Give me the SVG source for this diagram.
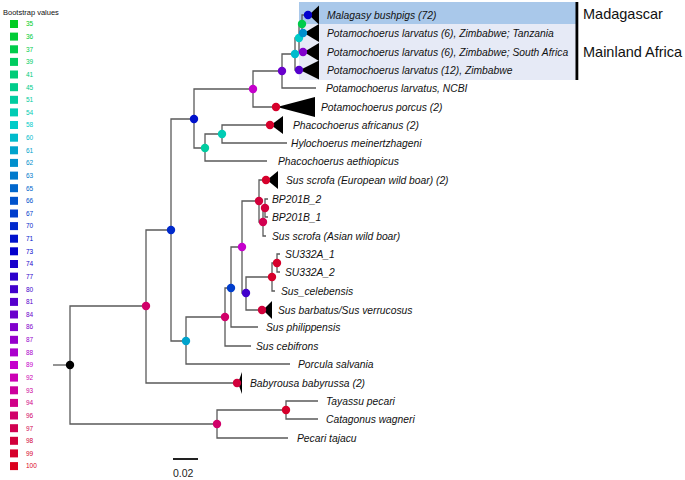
<svg xmlns="http://www.w3.org/2000/svg" width="685" height="480" viewBox="0 0 685 480">
<style>
text{font-family:"Liberation Sans",Arial,sans-serif}
.lab{font-size:10.3px;font-style:italic;fill:#111}
.lg{font-size:6.5px}
.title{font-size:7.5px;fill:#111}
.region{font-size:14.5px;fill:#111}
.br{fill:none;stroke:#5a5a5a;stroke-width:1.3}
.tri{fill:#000}
.c35{fill:hsl(130,100%,40%)}.c36{fill:hsl(136,100%,40%)}.c37{fill:hsl(142,100%,40%)}.c39{fill:hsl(148,100%,40%)}
.c41{fill:hsl(155,100%,40%)}.c45{fill:hsl(161,100%,40%)}.c51{fill:hsl(167,100%,40%)}.c54{fill:hsl(173,100%,40%)}
.c58{fill:hsl(179,100%,40%)}.c60{fill:hsl(185,100%,40%)}.c61{fill:hsl(192,100%,40%)}.c62{fill:hsl(198,100%,40%)}
.c63{fill:hsl(204,100%,40%)}.c65{fill:hsl(210,100%,40%)}.c66{fill:hsl(216,100%,40%)}.c67{fill:hsl(222,100%,40%)}
.c70{fill:hsl(228,100%,40%)}.c71{fill:hsl(235,100%,40%)}.c73{fill:hsl(241,100%,40%)}.c74{fill:hsl(247,100%,40%)}
.c77{fill:hsl(253,100%,40%)}.c80{fill:hsl(259,100%,40%)}.c81{fill:hsl(265,100%,40%)}.c84{fill:hsl(271,100%,40%)}
.c86{fill:hsl(278,100%,40%)}.c87{fill:hsl(284,100%,40%)}.c88{fill:hsl(290,100%,40%)}.c89{fill:hsl(298,100%,40%)}
.c92{fill:hsl(307,100%,40%)}.c93{fill:hsl(314,100%,40%)}.c94{fill:hsl(321,100%,41%)}.c96{fill:hsl(330,100%,41%)}
.c97{fill:hsl(337,100%,41%)}.c98{fill:hsl(343,100%,41%)}.c99{fill:hsl(348,100%,42%)}.c100{fill:hsl(352,100%,43%)}
</style>
<rect width="685" height="480" fill="#fff"/>

<g id="legend">
<text class="title" x="3" y="15">Bootstrap values</text>
<rect class="c35" x="10" y="20" width="8" height="8"/><text class="lg c35" x="26" y="26.3">35</text>
<rect class="c36" x="10" y="32.6" width="8" height="8"/><text class="lg c36" x="26" y="38.9">36</text>
<rect class="c37" x="10" y="45.3" width="8" height="8"/><text class="lg c37" x="26" y="51.6">37</text>
<rect class="c39" x="10" y="57.9" width="8" height="8"/><text class="lg c39" x="26" y="64.2">39</text>
<rect class="c41" x="10" y="70.5" width="8" height="8"/><text class="lg c41" x="26" y="76.8">41</text>
<rect class="c45" x="10" y="83.2" width="8" height="8"/><text class="lg c45" x="26" y="89.5">45</text>
<rect class="c51" x="10" y="95.8" width="8" height="8"/><text class="lg c51" x="26" y="102.1">51</text>
<rect class="c54" x="10" y="108.4" width="8" height="8"/><text class="lg c54" x="26" y="114.7">54</text>
<rect class="c58" x="10" y="121" width="8" height="8"/><text class="lg c58" x="26" y="127.3">58</text>
<rect class="c60" x="10" y="133.7" width="8" height="8"/><text class="lg c60" x="26" y="140">60</text>
<rect class="c61" x="10" y="146.3" width="8" height="8"/><text class="lg c61" x="26" y="152.6">61</text>
<rect class="c62" x="10" y="158.9" width="8" height="8"/><text class="lg c62" x="26" y="165.2">62</text>
<rect class="c63" x="10" y="171.6" width="8" height="8"/><text class="lg c63" x="26" y="177.9">63</text>
<rect class="c65" x="10" y="184.2" width="8" height="8"/><text class="lg c65" x="26" y="190.5">65</text>
<rect class="c66" x="10" y="196.8" width="8" height="8"/><text class="lg c66" x="26" y="203.1">66</text>
<rect class="c67" x="10" y="209.5" width="8" height="8"/><text class="lg c67" x="26" y="215.8">67</text>
<rect class="c70" x="10" y="222.1" width="8" height="8"/><text class="lg c70" x="26" y="228.4">70</text>
<rect class="c71" x="10" y="234.7" width="8" height="8"/><text class="lg c71" x="26" y="241">71</text>
<rect class="c73" x="10" y="247.3" width="8" height="8"/><text class="lg c73" x="26" y="253.6">73</text>
<rect class="c74" x="10" y="260" width="8" height="8"/><text class="lg c74" x="26" y="266.3">74</text>
<rect class="c77" x="10" y="272.6" width="8" height="8"/><text class="lg c77" x="26" y="278.9">77</text>
<rect class="c80" x="10" y="285.2" width="8" height="8"/><text class="lg c80" x="26" y="291.5">80</text>
<rect class="c81" x="10" y="297.9" width="8" height="8"/><text class="lg c81" x="26" y="304.2">81</text>
<rect class="c84" x="10" y="310.5" width="8" height="8"/><text class="lg c84" x="26" y="316.8">84</text>
<rect class="c86" x="10" y="323.1" width="8" height="8"/><text class="lg c86" x="26" y="329.4">86</text>
<rect class="c87" x="10" y="335.8" width="8" height="8"/><text class="lg c87" x="26" y="342.1">87</text>
<rect class="c88" x="10" y="348.4" width="8" height="8"/><text class="lg c88" x="26" y="354.7">88</text>
<rect class="c89" x="10" y="361" width="8" height="8"/><text class="lg c89" x="26" y="367.3">89</text>
<rect class="c92" x="10" y="373.6" width="8" height="8"/><text class="lg c92" x="26" y="379.9">92</text>
<rect class="c93" x="10" y="386.3" width="8" height="8"/><text class="lg c93" x="26" y="392.6">93</text>
<rect class="c94" x="10" y="398.9" width="8" height="8"/><text class="lg c94" x="26" y="405.2">94</text>
<rect class="c96" x="10" y="411.5" width="8" height="8"/><text class="lg c96" x="26" y="417.8">96</text>
<rect class="c97" x="10" y="424.2" width="8" height="8"/><text class="lg c97" x="26" y="430.5">97</text>
<rect class="c98" x="10" y="436.8" width="8" height="8"/><text class="lg c98" x="26" y="443.1">98</text>
<rect class="c99" x="10" y="449.4" width="8" height="8"/><text class="lg c99" x="26" y="455.7">99</text>
<rect class="c100" x="10" y="462.1" width="8" height="8"/><text class="lg c100" x="26" y="468.4">100</text>
</g>

<g id="regions">
<rect x="299" y="2" width="277" height="22" fill="#a9c8ea"/>
<rect x="299" y="24" width="277" height="56" fill="#e6eaf6"/>
<rect x="575.5" y="2" width="2.8" height="78" fill="#000"/>
<text class="region" x="583" y="19">Madagascar</text>
<text class="region" x="583" y="57">Mainland Africa</text>
</g>

<g id="connectors">
<path class="br" d="M53 365H70"/>
<path class="br" d="M70 365V306H146"/>
<path class="br" d="M70 365V424H217"/>
<path class="br" d="M217 424V410H286"/>
<path class="br" d="M286 410V401H318"/>
<path class="br" d="M286 410V419H318"/>
<path class="br" d="M217 424V438H288"/>
<path class="br" d="M146 306V383H237"/>
<path class="br" d="M146 306V230H171"/>
<path class="br" d="M171 230V119H194"/>
<path class="br" d="M171 230V341H186"/>
<path class="br" d="M186 341V364H290"/>
<path class="br" d="M186 341V317H225"/>
<path class="br" d="M225 317V346H251"/>
<path class="br" d="M225 317V288H231"/>
<path class="br" d="M231 288V327H258"/>
<path class="br" d="M231 288V247H242"/>
<path class="br" d="M242 247V201H259"/>
<path class="br" d="M242 247V293H246"/>
<path class="br" d="M259 201V180H266"/>
<path class="br" d="M259 201V222H263"/>
<path class="br" d="M263 222V208H265"/>
<path class="br" d="M263 222V236H266"/>
<path class="br" d="M265 208V199H268"/>
<path class="br" d="M265 208V217H268"/>
<path class="br" d="M246 293V277H272"/>
<path class="br" d="M246 293V310H262"/>
<path class="br" d="M272 277V263H277"/>
<path class="br" d="M272 277V291H275"/>
<path class="br" d="M277 263V254H280"/>
<path class="br" d="M277 263V272H280"/>
<path class="br" d="M194 119V89H253"/>
<path class="br" d="M194 119V148H205"/>
<path class="br" d="M253 89V71H282"/>
<path class="br" d="M253 89V107H276"/>
<path class="br" d="M282 71V54H295"/>
<path class="br" d="M282 71V88H316"/>
<path class="br" d="M295 54V38H299"/>
<path class="br" d="M295 54V70H299"/>
<path class="br" d="M299 38V24H302"/>
<path class="br" d="M299 38V52H303"/>
<path class="br" d="M302 24V15H308"/>
<path class="br" d="M302 24V33H303"/>
<path class="br" d="M205 148V134H222"/>
<path class="br" d="M205 148V161H267"/>
<path class="br" d="M222 134V125H270"/>
<path class="br" d="M222 134V143H287"/>
</g>

<g id="internal-nodes">
<g id="n-root"><circle cx="70" cy="365" r="4.2" fill="#000"/></g>
<g id="n1"><circle class="c96" cx="146" cy="306" r="4.2"/></g>
<g id="n-pecari"><circle class="c96" cx="217" cy="424" r="4.2"/></g>
<g id="n-tayassu"><circle class="c99" cx="286" cy="410" r="4.2"/></g>
<g id="n2"><circle class="c70" cx="171" cy="230" r="4.2"/></g>
<g id="n3"><circle class="c71" cx="194" cy="119" r="4.2"/></g>
<g id="n4"><circle class="c61" cx="186" cy="341" r="4.2"/></g>
<g id="n5"><circle class="c96" cx="225" cy="317" r="4.2"/></g>
<g id="n6"><circle class="c67" cx="231" cy="288" r="4.2"/></g>
<g id="n7"><circle class="c89" cx="242" cy="247" r="4.2"/></g>
<g id="n8"><circle class="c98" cx="259" cy="201" r="4.2"/></g>
<g id="n9"><circle class="c80" cx="246" cy="293" r="4.2"/></g>
<g id="n10"><circle class="c97" cx="263" cy="222" r="4.2"/></g>
<g id="n11"><circle class="c98" cx="265" cy="208" r="4.2"/></g>
<g id="n12"><circle class="c99" cx="272" cy="277" r="4.2"/></g>
<g id="n13"><circle class="c99" cx="277" cy="263" r="4.2"/></g>
<g id="n14"><circle class="c89" cx="253" cy="89" r="4.2"/></g>
<g id="n15"><circle class="c51" cx="205" cy="148" r="4.2"/></g>
<g id="n16"><circle class="c84" cx="282" cy="71" r="4.2"/></g>
<g id="n17"><circle class="c60" cx="295" cy="54" r="4.2"/></g>
<g id="n18"><circle class="c58" cx="299" cy="38" r="4.2"/></g>
<g id="n19"><circle class="c37" cx="302" cy="24" r="4.2"/></g>
<g id="n20"><circle class="c54" cx="222" cy="134" r="4.2"/></g>
</g>

<g id="leaves">
<g id="malagasy"><polygon class="tri" points="309,15 319,5.5 319,24.5"/><circle class="c73" cx="308" cy="15" r="4.2"/><text class="lab" x="327" y="18.7">Malagasy bushpigs (72)</text></g>
<g id="larv-tanzania"><polygon class="tri" points="304,33 319,24 319,42"/><circle class="c62" cx="303" cy="33" r="4.2"/><text class="lab" x="327" y="36.7">Potamochoerus larvatus (6), Zimbabwe; Tanzania</text></g>
<g id="larv-southafrica"><polygon class="tri" points="304,52 319,43 319,61"/><circle class="c86" cx="303" cy="52" r="4.2"/><text class="lab" x="327" y="55.7">Potamochoerus larvatus (6), Zimbabwe; South Africa</text></g>
<g id="larv-zimbabwe"><polygon class="tri" points="300,70 319,60.5 319,79.5"/><circle class="c81" cx="299" cy="70" r="4.2"/><text class="lab" x="327" y="73.7">Potamochoerus larvatus (12), Zimbabwe</text></g>
<g id="larv-ncbi"><text class="lab" x="326" y="91.7">Potamochoerus larvatus, NCBI</text></g>
<g id="porcus"><polygon class="tri" points="277,107 315,97 315,117"/><circle class="c99" cx="276" cy="107" r="4.2"/><text class="lab" x="321" y="110.7">Potamochoerus porcus (2)</text></g>
<g id="africanus"><polygon class="tri" points="271,125 283,116 283,134"/><circle class="c99" cx="270" cy="125" r="4.2"/><text class="lab" x="293" y="128.7">Phacochoerus africanus (2)</text></g>
<g id="hylochoerus"><text class="lab" x="291" y="146.7">Hylochoerus meinertzhageni</text></g>
<g id="aethiopicus"><text class="lab" x="278" y="164.7">Phacochoerus aethiopicus</text></g>
<g id="scrofa-eu"><polygon class="tri" points="267,180 278,171 278,189"/><circle class="c99" cx="266" cy="180" r="4.2"/><text class="lab" x="286" y="183.7">Sus scrofa (European wild boar) (2)</text></g>
<g id="bp201b2"><text class="lab" x="272" y="202.7">BP201B_2</text></g>
<g id="bp201b1"><text class="lab" x="272" y="220.7">BP201B_1</text></g>
<g id="scrofa-asia"><text class="lab" x="272" y="239.7">Sus scrofa (Asian wild boar)</text></g>
<g id="su332a1"><text class="lab" x="285" y="257.7">SU332A_1</text></g>
<g id="su332a2"><text class="lab" x="285" y="275.7">SU332A_2</text></g>
<g id="celebensis"><text class="lab" x="281" y="294.7">Sus_celebensis</text></g>
<g id="barbatus"><polygon class="tri" points="263,310 272,301 272,319"/><circle class="c98" cx="262" cy="310" r="4.2"/><text class="lab" x="278" y="313.7">Sus barbatus/Sus verrucosus</text></g>
<g id="philippensis"><text class="lab" x="266" y="330.7">Sus philippensis</text></g>
<g id="cebifrons"><text class="lab" x="256" y="349.7">Sus cebifrons</text></g>
<g id="porcula"><text class="lab" x="298" y="367.7">Porcula salvania</text></g>
<g id="babyrousa"><polygon class="tri" points="238,383 242,372 242,394"/><circle class="c98" cx="237" cy="383" r="4.2"/><text class="lab" x="250" y="386.7">Babyrousa babyrussa (2)</text></g>
<g id="tayassu"><text class="lab" x="326" y="404.7">Tayassu pecari</text></g>
<g id="catagonus"><text class="lab" x="326" y="422.7">Catagonus wagneri</text></g>
<g id="pecari"><text class="lab" x="297" y="441.7">Pecari tajacu</text></g>
</g>

<g id="scale">
<line x1="173" y1="459" x2="198" y2="459" stroke="#222" stroke-width="2"/>
<text x="173" y="477" font-size="10.5" fill="#222">0.02</text>
</g>
</svg>
